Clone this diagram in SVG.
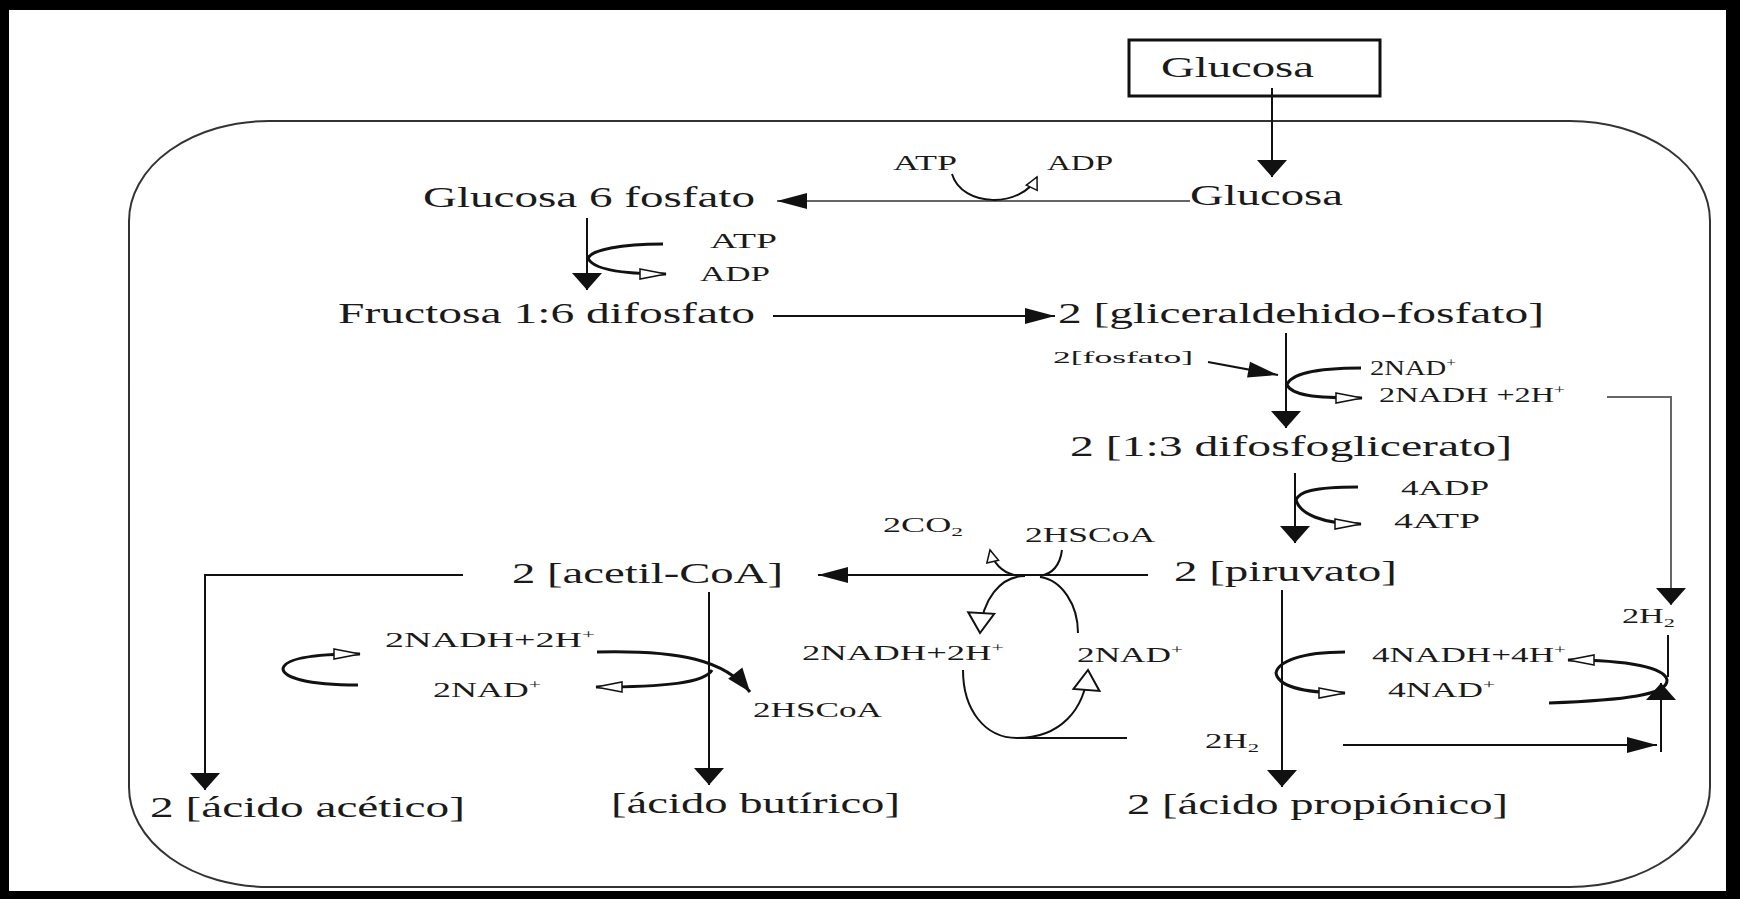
<svg xmlns="http://www.w3.org/2000/svg" width="1740" height="899" viewBox="0 0 1740 899">
<style>
text{font-family:"Liberation Serif","Times New Roman",serif;fill:#1a1a1a}
.m{font-size:30px}
.s{font-size:20px}
.xs{font-size:17px}
.c{fill:none;stroke:#111;stroke-width:2}
.b{fill:none;stroke:#111;stroke-width:3}
.g{fill:none;stroke:#666;stroke-width:2}
</style>
<defs>
<marker id="fh" markerUnits="userSpaceOnUse" markerWidth="32" markerHeight="18" refX="30" refY="8" orient="auto" overflow="visible"><path d="M0,0 L30,8 L0,16 z" fill="#111"/></marker>
<marker id="fv" markerUnits="userSpaceOnUse" markerWidth="18" markerHeight="30" refX="17" refY="15" orient="auto" overflow="visible"><path d="M0,0 L17,15 L0,30 z" fill="#111"/></marker>
<marker id="fd" markerUnits="userSpaceOnUse" markerWidth="26" markerHeight="20" refX="24" refY="9" orient="auto" overflow="visible"><path d="M0,0 L24,9 L0,18 z" fill="#111"/></marker>
<marker id="oh" markerUnits="userSpaceOnUse" markerWidth="28" markerHeight="12" refX="26" refY="5" orient="auto" overflow="visible"><path d="M0,0 L26,5 L0,10 z" fill="#fff" stroke="#111" stroke-width="1.5"/></marker>
<marker id="os" markerUnits="userSpaceOnUse" markerWidth="14" markerHeight="14" refX="12" refY="6" orient="auto" overflow="visible"><path d="M0,0 L12,6 L0,12 z" fill="#fff" stroke="#111" stroke-width="1.5"/></marker>
<marker id="ov" markerUnits="userSpaceOnUse" markerWidth="22" markerHeight="28" refX="20" refY="13" orient="auto" overflow="visible"><path d="M0,0 L20,13 L0,26 z" fill="#fff" stroke="#111" stroke-width="2"/></marker>
</defs>
<rect x="0" y="0" width="1740" height="899" fill="#fff"/>
<g id="frame" fill="#000">
<rect x="0" y="0" width="1740" height="10"/>
<rect x="0" y="0" width="9" height="899"/>
<rect x="1726" y="0" width="14" height="899"/>
<rect x="0" y="891" width="1740" height="8"/>
</g>
<g id="cell"><rect x="129" y="121" width="1581" height="766" rx="140" ry="100" fill="none" stroke="#333" stroke-width="2"/></g>

<g id="connectors">
<path class="c" d="M1272,88 V177" marker-end="url(#fv)"/>
<path class="g" d="M1190,201 H777" stroke="#333" marker-end="url(#fh)"/>
<path class="c" d="M952,174 C962,208 1022,208 1037,177" marker-end="url(#os)"/>
<path class="c" d="M587,218 V290" marker-end="url(#fv)"/>
<path class="b" d="M663,244 C620,244 592,250 588,258 C592,268 615,274 666,274" marker-end="url(#oh)"/>
<path class="c" d="M773,316 H1055" marker-end="url(#fh)"/>
<path class="c" d="M1286,333 V428" marker-end="url(#fv)"/>
<path class="c" d="M1208,362 L1278,375" marker-end="url(#fh)"/>
<path class="b" d="M1361,368 C1312,368 1290,375 1287,385 C1292,395 1312,398 1362,398" marker-end="url(#oh)"/>
<path class="g" d="M1607,397 H1671 V605" marker-end="url(#fv)"/>
<path class="c" d="M1295,473 V543" marker-end="url(#fv)"/>
<path class="b" d="M1358,487 C1312,487 1299,492 1296,500 C1300,514 1322,524 1361,524" marker-end="url(#oh)"/>
<path class="c" d="M1148,575 H818" marker-end="url(#fh)"/>
<path class="c" d="M1014,575 C1002,572 993,563 990,550" marker-end="url(#os)"/>
<path class="c" d="M1062,550 C1060,565 1052,574 1040,576"/>
<path class="c" d="M1025,576 C1000,576 982,600 980,633" marker-end="url(#ov)"/>
<path class="c" d="M1040,577 C1062,580 1078,605 1078,633"/>
<path class="c" d="M963,670 C963,710 985,738 1017,738 C1060,738 1085,710 1088,670" marker-end="url(#ov)"/>
<path class="c" d="M1017,738 H1127"/>
<path class="c" d="M1343,745 H1657" marker-end="url(#fh)"/>
<path class="c" d="M1661,752 V683" marker-end="url(#fv)"/>
<path class="c" d="M1668,635 V677"/>
<path class="b" d="M1549,703 C1625,700 1668,695 1667,680 C1665,668 1630,660 1568,660" marker-end="url(#oh)"/>
<path class="b" d="M1345,652 C1300,652 1278,662 1276,673 C1278,685 1300,693 1345,693" marker-end="url(#oh)"/>
<path class="c" d="M1282,590 V787" marker-end="url(#fv)"/>
<path class="c" d="M463,575 H205 V790" marker-end="url(#fv)"/>
<path class="c" d="M709,592 V785" marker-end="url(#fv)"/>
<path class="b" d="M358,685 C305,685 284,677 283,669 C284,660 305,654 360,654" marker-end="url(#oh)"/>
<path class="b" d="M597,652 C680,650 725,660 750,692" marker-end="url(#fd)"/>
<path class="b" d="M712,670 C705,683 665,687 596,687" marker-end="url(#oh)"/>
</g>

<g id="n-glucosa-ext"><rect x="1129" y="40" width="251" height="56" fill="none" stroke="#111" stroke-width="3"/><text class="m" x="1161" y="77" textLength="153" lengthAdjust="spacingAndGlyphs">Glucosa</text></g>
<g id="n-glucosa"><text class="m" x="1190" y="205" textLength="153" lengthAdjust="spacingAndGlyphs">Glucosa</text></g>
<g id="n-atp1"><text class="s" x="893" y="170" textLength="64" lengthAdjust="spacingAndGlyphs">ATP</text></g>
<g id="n-adp1"><text class="s" x="1047" y="170" textLength="66" lengthAdjust="spacingAndGlyphs">ADP</text></g>
<g id="n-g6p"><text class="m" x="423" y="207" textLength="332" lengthAdjust="spacingAndGlyphs">Glucosa 6 fosfato</text></g>
<g id="n-atp2"><text class="s" x="710" y="248" textLength="67" lengthAdjust="spacingAndGlyphs">ATP</text></g>
<g id="n-adp2"><text class="s" x="700" y="281" textLength="70" lengthAdjust="spacingAndGlyphs">ADP</text></g>
<g id="n-fructosa"><text class="m" x="338" y="323" textLength="417" lengthAdjust="spacingAndGlyphs">Fructosa 1:6 difosfato</text></g>
<g id="n-glicer"><text class="m" x="1058" y="323" textLength="486" lengthAdjust="spacingAndGlyphs">2 [gliceraldehido-fosfato]</text></g>
<g id="n-fosfato"><text class="xs" x="1053" y="363" textLength="140" lengthAdjust="spacingAndGlyphs">2[fosfato]</text></g>
<g id="n-nad1"><text class="s" x="1370" y="375" textLength="86" lengthAdjust="spacingAndGlyphs">2NAD<tspan dy="-8" font-size="12">+</tspan></text></g>
<g id="n-nadh1"><text class="s" x="1379" y="402" textLength="186" lengthAdjust="spacingAndGlyphs">2NADH +2H<tspan dy="-8" font-size="12">+</tspan></text></g>
<g id="n-difosfoglic"><text class="m" x="1070" y="456" textLength="442" lengthAdjust="spacingAndGlyphs">2 [1:3 difosfoglicerato]</text></g>
<g id="n-4adp"><text class="s" x="1401" y="495" textLength="88" lengthAdjust="spacingAndGlyphs">4ADP</text></g>
<g id="n-4atp"><text class="s" x="1394" y="528" textLength="86" lengthAdjust="spacingAndGlyphs">4ATP</text></g>
<g id="n-co2"><text class="s" x="883" y="532" textLength="80" lengthAdjust="spacingAndGlyphs">2CO<tspan dy="4" font-size="13">2</tspan></text></g>
<g id="n-hscoa1"><text class="s" x="1025" y="542" textLength="130" lengthAdjust="spacingAndGlyphs">2HSCoA</text></g>
<g id="n-piruvato"><text class="m" x="1174" y="581" textLength="223" lengthAdjust="spacingAndGlyphs">2 [piruvato]</text></g>
<g id="n-acetilcoa"><text class="m" x="512" y="583" textLength="271" lengthAdjust="spacingAndGlyphs">2 [acetil-CoA]</text></g>
<g id="n-nadh2"><text class="s" x="385" y="647" textLength="210" lengthAdjust="spacingAndGlyphs">2NADH+2H<tspan dy="-8" font-size="12">+</tspan></text></g>
<g id="n-nad2"><text class="s" x="433" y="697" textLength="108" lengthAdjust="spacingAndGlyphs">2NAD<tspan dy="-8" font-size="12">+</tspan></text></g>
<g id="n-nadh3"><text class="s" x="802" y="660" textLength="202" lengthAdjust="spacingAndGlyphs">2NADH+2H<tspan dy="-8" font-size="12">+</tspan></text></g>
<g id="n-nad3"><text class="s" x="1077" y="662" textLength="106" lengthAdjust="spacingAndGlyphs">2NAD<tspan dy="-8" font-size="12">+</tspan></text></g>
<g id="n-h2a"><text class="s" x="1622" y="623" textLength="53" lengthAdjust="spacingAndGlyphs">2H<tspan dy="4" font-size="13">2</tspan></text></g>
<g id="n-nadh4"><text class="s" x="1372" y="662" textLength="194" lengthAdjust="spacingAndGlyphs">4NADH+4H<tspan dy="-8" font-size="12">+</tspan></text></g>
<g id="n-nad4"><text class="s" x="1388" y="697" textLength="107" lengthAdjust="spacingAndGlyphs">4NAD<tspan dy="-8" font-size="12">+</tspan></text></g>
<g id="n-hscoa2"><text class="s" x="753" y="717" textLength="129" lengthAdjust="spacingAndGlyphs">2HSCoA</text></g>
<g id="n-h2b"><text class="s" x="1205" y="748" textLength="54" lengthAdjust="spacingAndGlyphs">2H<tspan dy="4" font-size="13">2</tspan></text></g>
<g id="n-acetico"><text class="m" x="150" y="817" textLength="315" lengthAdjust="spacingAndGlyphs">2 [ácido acético]</text></g>
<g id="n-butirico"><text class="m" x="611" y="813" textLength="289" lengthAdjust="spacingAndGlyphs">[ácido butírico]</text></g>
<g id="n-propionico"><text class="m" x="1127" y="814" textLength="381" lengthAdjust="spacingAndGlyphs">2 [ácido propiónico]</text></g>
</svg>
